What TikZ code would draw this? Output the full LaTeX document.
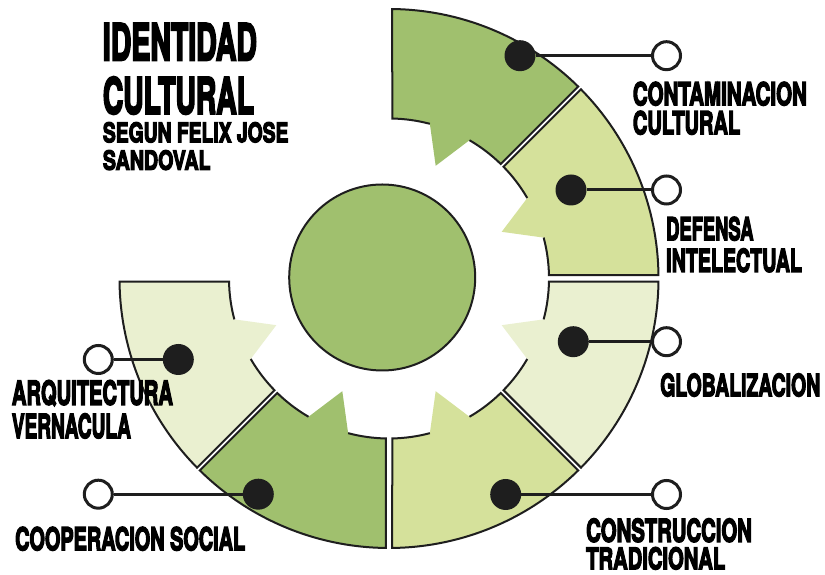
\documentclass[tikz,border=0pt]{standalone}
\usepackage{fontspec}
\setmainfont{TeX Gyre Heros}
\newfontfamily\lblfont{TeX Gyre Heros}[UprightFeatures={FakeBold=5},BoldFeatures={FakeBold=5}]
\usetikzlibrary{calc}
\definecolor{gmid}{RGB}{160,192,110}
\definecolor{glight}{RGB}{213,225,155}
\definecolor{gvlight}{RGB}{234,240,208}
\definecolor{ink}{RGB}{30,30,30}
\newcommand\lbl[3]{\resizebox{#1pt}{#2pt}{\lblfont\bfseries #3}}
\def\RingOut{269.5}
\def\RingIn{160}
\def\ToothR{122}
\def\ToothW{7.7}
\newcommand\ringseg[5]{%
  \pgfmathsetmacro\segAo{#1-asin(#4/\RingOut)}%
  \pgfmathsetmacro\segAi{#1-asin(#4/\RingIn)}%
  \pgfmathsetmacro\segBo{#2+asin(#5/\RingOut)}%
  \pgfmathsetmacro\segBi{#2+asin(#5/\RingIn)}%
  \pgfmathsetmacro\segM{(#1+#2)/2}%
  \pgfmathsetmacro\segTa{\segM+\ToothW}%
  \pgfmathsetmacro\segTb{\segM-\ToothW}%
  \fill[#3] (\segTa:\RingIn) arc[start angle=\segTa,end angle=\segAi,radius=\RingIn]
    -- (\segAo:\RingOut) arc[start angle=\segAo,end angle=\segBo,radius=\RingOut]
    -- (\segBi:\RingIn) arc[start angle=\segBi,end angle=\segTb,radius=\RingIn]
    -- (\segM:\ToothR) -- cycle;
  \draw[segline] (\segTa:\RingIn) arc[start angle=\segTa,end angle=\segAi,radius=\RingIn]
    -- (\segAo:\RingOut) arc[start angle=\segAo,end angle=\segBo,radius=\RingOut]
    -- (\segBi:\RingIn) arc[start angle=\segBi,end angle=\segTb,radius=\RingIn];
}
\begin{document}
\begin{tikzpicture}[x=1pt,y=1pt,
  segline/.style={draw=ink,line width=2pt,line join=miter},
  dot/.style={circle,fill=ink,minimum size=31pt,inner sep=0pt},
  hole/.style={circle,draw=ink,fill=white,line width=3pt,minimum size=28pt,inner sep=0pt},
  conn/.style={draw=ink,line width=3pt},
  lab/.style={anchor=north west,inner sep=0pt,text=black}]
\useasboundingbox (0,0) rectangle (825,575);
\fill[white] (0,0) rectangle (825,575);
\begin{scope}[shift={(389,296.5)}]
  \ringseg{90}{45}{gmid}{3.25}{2}
  \ringseg{45}{0}{glight}{2}{3.25}
  \ringseg{0}{-45}{gvlight}{3.25}{2}
  \ringseg{-45}{-90}{glight}{2}{3.25}
  \ringseg{-90}{-135}{gmid}{3.25}{2}
  \ringseg{-135}{-180}{gvlight}{2}{3.25}
\end{scope}
\node[circle,draw=ink,fill=gmid,line width=2pt,minimum size=186pt,inner sep=0pt] (core) at (382.2,297.5) {};
% dots and holes
\node[dot] (d1) at (520,519.3) {};
\node[hole] (o1) at (666.5,519.3) {};
\node[dot] (d2) at (571,385) {};
\node[hole] (o2) at (666.5,385) {};
\node[dot] (d3) at (573.3,233.3) {};
\node[hole] (o3) at (666.5,233.3) {};
\node[dot] (d4) at (505.7,80.5) {};
\node[hole] (o4) at (666.5,80.5) {};
\node[dot] (d5) at (258.3,80.8) {};
\node[hole] (o5) at (98.3,80.8) {};
\node[dot] (d6) at (178.3,215.5) {};
\node[hole] (o6) at (98.3,215.5) {};
\draw[conn] (d1) -- (o1);
\draw[conn] (d2) -- (o2);
\draw[conn] (d3) -- (o3);
\draw[conn] (d4) -- (o4);
\draw[conn] (d5) -- (o5);
\draw[conn] (d6) -- (o6);
% title
\node[lab] (t1) at (102.7,551.7) {\lbl{154}{36.7}{IDENTIDAD}};
\node[lab] (t2) at (102.7,498.3) {\lbl{151}{36.7}{CULTURAL}};
\node[lab] (t3) at (102.7,453) {\lbl{185.5}{20}{SEGUN FELIX JOSE}};
\node[lab] (t4) at (102.7,425) {\lbl{107.7}{19.5}{SANDOVAL}};
% labels
\node[lab] (l1a) at (632.7,493.3) {\lbl{174}{23.3}{CONTAMINACION}};
\node[lab] (l1b) at (632.7,464.3) {\lbl{107.3}{23.3}{CULTURAL}};
\node[lab] (l2a) at (666,358.3) {\lbl{87.3}{23.3}{DEFENSA}};
\node[lab] (l2b) at (666,326.7) {\lbl{135.7}{23.3}{INTELECTUAL}};
\node[lab] (l3a) at (660,201.7) {\lbl{160}{22.7}{GLOBALIZACION}};
\node[lab] (l4a) at (586,56.7) {\lbl{165.7}{23.3}{CONSTRUCCION}};
\node[lab] (l4b) at (586,28) {\lbl{139}{22}{TRADICIONAL}};
\node[lab] (l5a) at (15,48.3) {\lbl{230}{23.3}{COOPERACION SOCIAL}};
\node[lab] (l6a) at (11.7,195) {\lbl{161}{24.5}{ARQUITECTURA}};
\node[lab] (l6b) at (11.7,161.7) {\lbl{119}{24.5}{VERNACULA}};
\end{tikzpicture}
\end{document}
